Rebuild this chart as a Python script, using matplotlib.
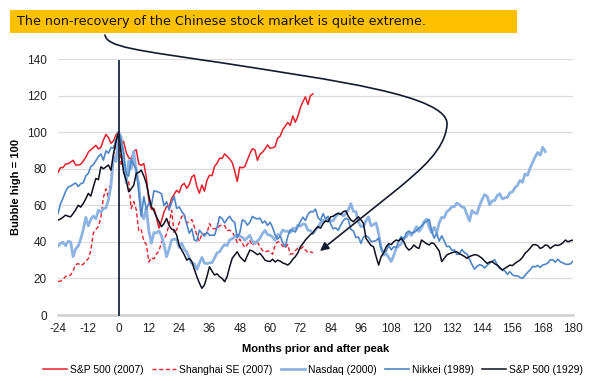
import matplotlib
matplotlib.use("Agg")
import matplotlib.pyplot as plt
import numpy as np
from matplotlib.patches import Rectangle, FancyArrowPatch
from matplotlib.path import Path

plt.rcParams['font.family'] = ['Liberation Sans', 'DejaVu Sans']

# ---------------- data (index, bubble high = 100) ----------------
months_sp07 = list(range(-24, 78))
sp500_2007 = [77.9, 80.6, 80.6,
              82.6, 82.7, 83.6, 84.6, 82.0, 82.0, 82.4, 84.2, 86.2, 89.0, 90.4, 91.5,
              92.8, 90.8, 91.7, 95.7, 98.8, 97.0, 93.9, 95.2, 98.6, 100.0,
              95.6, 94.8,
              89.0, 85.9, 85.4, 89.5, 90.4, 82.6, 81.8, 82.8, 75.3, 62.6, 57.8, 58.3,
              53.3, 47.5, 51.5, 56.4, 59.3, 59.3, 63.7, 65.9, 68.2, 66.9, 70.8, 72.0,
              69.3, 71.3, 75.5, 76.6, 70.3, 66.6, 71.1, 67.7, 73.7, 76.4, 76.2, 81.2,
              83.0, 85.7, 85.6, 88.1, 86.8, 85.3, 83.4, 78.7, 73.0, 80.9, 80.5, 81.2,
              84.7, 88.2, 90.9, 90.3, 84.6, 87.9, 89.0, 90.8, 93.0, 91.2, 91.4, 92.1,
              96.7, 97.8, 101.3, 103.2, 105.3, 103.7, 108.8, 105.4, 108.6, 113.4, 116.6, 119.3,
              115.1, 120.0, 120.9]

months_sh = list(range(-24, 78))
shanghai_2007 = [18.3, 18.5, 19.5,
                 21.1, 21.8, 21.8, 24.2, 27.6, 28.1, 27.1, 27.8, 29.4, 30.8, 35.2, 44.9,
                 46.8, 48.4, 53.5, 64.5, 69.0, 64.2, 75.1, 87.6, 93.2, 100.0,
                 81.8, 88.4,
                 73.6, 73.0, 58.3, 62.0, 57.6, 45.9, 46.6, 40.3, 38.5, 29.0, 31.4, 30.6,
                 33.4, 35.0, 39.8, 41.6, 44.2, 49.7, 57.3, 44.8, 46.7, 50.3, 53.7, 55.0,
                 50.2, 51.2, 52.2, 48.2, 43.5, 40.3, 44.3, 44.3, 44.6, 50.0, 47.4, 47.2,
                 46.9, 48.8, 49.2, 48.9, 46.1, 46.4, 45.4, 43.1, 39.6, 41.5, 39.2, 36.9,
                 38.5, 40.8, 38.0, 40.3, 39.8, 37.4, 35.3, 34.4, 35.0, 34.7, 33.2, 38.1,
                 40.1, 39.7, 37.6, 36.6, 38.6, 33.2, 33.5, 35.2, 36.5, 36.0, 37.3, 35.5,
                 34.1, 34.5, 34.1]

months_nq = list(range(-24, 170))
nasdaq_2000 = [37.7, 39.1, 39.8, 37.9, 40.3, 39.9, 31.9, 36.1, 37.7, 41.5, 46.7,
               53.4, 48.7, 52.4, 54.1, 52.6, 57.2, 56.2, 58.3, 58.5, 63.1, 71.0, 86.6,
               83.9, 100.0,
               97.4, 82.2, 72.4, 84.4, 80.2, 89.5, 78.2, 71.7, 55.3, 52.6,
               59.0, 45.8, 39.2, 45.1, 44.9, 46.0, 43.2, 38.4, 31.9, 36.0, 41.1, 41.5,
               41.2, 36.9, 39.3, 35.9, 34.4, 31.1, 28.3, 28.0, 25.0, 28.3, 31.5, 28.4,
               28.1, 28.5, 28.6, 31.2, 34.0, 34.6, 36.9, 38.5, 38.0, 41.1, 41.7, 42.6,
               44.0, 43.2, 42.5, 40.9, 42.3, 43.6, 40.2, 39.1, 40.4, 42.0, 44.6, 46.3,
               43.9, 43.7, 42.6, 40.9, 44.0, 43.8, 46.5, 45.8, 45.8, 45.1, 47.5, 46.9,
               49.1, 48.6, 49.8, 49.5, 46.4, 46.2, 44.5, 46.5, 48.1, 50.4, 51.8, 51.4,
               52.5, 51.4, 51.6, 53.8, 55.5, 55.4, 54.2, 55.3, 57.5, 60.9, 56.7, 56.5,
               50.9, 48.4, 48.5, 51.4, 53.7, 48.8, 49.5, 50.4, 44.5, 36.6, 32.7, 33.6,
               31.4, 29.3, 32.6, 36.6, 37.8, 39.1, 42.1, 42.8, 45.2, 43.5, 45.7, 48.3,
               45.7, 47.6, 51.1, 52.4, 48.1, 44.9, 48.0, 45.0, 50.4, 53.4, 53.2, 56.5,
               57.5, 59.2, 59.2, 61.2, 60.4, 59.1, 58.7, 54.9, 51.4, 57.1, 55.8, 55.5,
               59.9, 63.2, 65.8, 64.9, 60.2, 62.5, 62.6, 65.3, 66.3, 63.4, 64.1, 64.3,
               66.9, 67.3, 69.6, 70.9, 73.6, 72.5, 77.2, 76.4, 80.3, 83.5, 86.4, 88.9,
               87.4, 91.7, 89.4]

months_nk = list(range(-24, 181))
nikkei_1989 = [55.4,
               60.9, 64.0, 67.5, 70.0, 70.5, 71.4, 72.2, 70.3, 71.8, 72.3, 76.0, 77.5,
               81.2, 82.2, 84.4, 86.6, 88.1, 84.7, 89.8, 88.5, 91.6, 91.3, 95.8, 100.0,
               95.6, 88.9, 77.0, 76.0, 85.1, 82.1, 79.8, 66.8, 53.9, 64.7, 57.7, 61.3,
               59.9, 67.9, 67.6, 67.1, 66.3, 59.8, 62.0, 57.4, 61.5, 64.8, 58.3, 59.1,
               56.6, 54.8, 49.7, 44.7, 47.1, 41.0, 40.5, 46.4, 44.7, 43.1, 45.4, 43.5,
               43.7, 43.6, 47.8, 53.8, 52.8, 50.3, 52.4, 54.0, 51.7, 50.6, 42.2, 44.8,
               52.0, 51.4, 49.1, 50.7, 53.9, 53.0, 52.5, 53.0, 50.3, 51.4, 49.0, 50.7,
               47.9, 43.8, 41.5, 43.2, 39.7, 37.3, 42.9, 46.6, 46.0, 45.4, 48.2, 51.1,
               53.5, 51.7, 55.0, 56.6, 56.4, 57.9, 53.2, 51.8, 55.4, 52.6, 54.0, 49.8,
               47.1, 47.7, 46.3, 49.2, 51.6, 52.9, 52.2, 46.8, 46.0, 42.3, 42.7, 39.2,
               42.7, 43.3, 42.5, 40.2, 40.3, 40.7, 42.1, 36.3, 34.4, 34.9, 38.2, 35.6,
               37.3, 36.9, 40.7, 42.9, 41.4, 45.0, 45.9, 44.8, 45.2, 46.1, 47.7, 48.7,
               50.2, 51.3, 52.3, 46.2, 42.0, 44.7, 40.4, 43.3, 40.5, 37.4, 37.6, 35.4,
               35.6, 33.1, 33.4, 35.8, 34.1, 33.3, 30.5, 27.5, 25.1, 26.6, 27.5, 27.1,
               25.7, 27.2, 28.3, 29.5, 30.2, 27.3, 25.4, 24.7, 24.1, 22.2, 23.7, 22.0,
               21.4, 21.5, 20.5, 20.1, 21.6, 23.3, 24.6, 26.6, 26.3, 27.1, 26.0, 27.4,
               27.7, 28.4, 30.1, 30.2, 28.9, 30.5, 29.1, 28.5, 27.8, 27.7, 28.0, 29.5]

months_sp29 = list(range(-24, 181))
sp500_1929 = [51.9, 52.5, 53.5, 54.6, 54.0, 53.7, 55.5, 57.5, 60.0, 59.0, 61.0, 63.5,
              66.5, 65.0, 70.0, 74.7, 74.0, 81.0, 80.0, 81.0, 82.0, 79.2, 88.4, 95.0,
              100.0,
              88.4, 78.0, 73.8, 67.4, 69.0, 71.0, 77.4, 78.0, 79.2, 76.0, 72.0, 65.0,
              59.2, 57.0, 53.7, 51.0, 48.3, 50.0, 52.8, 49.0, 47.0, 46.4, 43.7, 38.0,
              35.5, 33.0, 30.0, 31.0, 29.2, 25.0, 21.0, 17.5, 14.6, 16.4, 21.0, 26.4,
              24.0, 21.9, 22.5, 21.0, 20.0, 18.2, 21.0, 26.4, 31.0, 32.8, 34.6, 32.0,
              30.5, 29.2, 32.5, 35.5, 35.0, 34.0, 33.0, 33.7, 32.0, 30.0, 29.5, 29.2,
              30.5, 29.0, 30.0, 29.5, 28.5, 28.0, 27.3, 28.5, 30.5, 31.9, 34.0, 37.3,
              39.0, 41.0, 42.5, 44.0, 45.0, 47.0, 48.3, 47.5, 50.0, 51.5, 51.0, 53.7,
              54.0, 55.0, 55.6, 55.0, 56.5, 57.0, 54.0, 52.0, 51.0, 52.5, 53.7, 52.0,
              50.1, 41.9, 40.0, 38.0, 37.3, 32.0, 27.3, 31.9, 34.0, 37.3, 39.0, 38.5,
              40.1, 41.0, 40.5, 41.9, 40.0, 37.0, 35.5, 36.5, 38.3, 37.0, 36.4, 41.0,
              40.0, 39.0, 38.3, 39.5, 39.0, 37.0, 35.0, 29.2, 31.0, 32.8, 33.5, 34.0,
              34.5, 34.6, 33.5, 32.8, 32.0, 31.0, 32.0, 32.5, 33.0, 32.8, 32.0, 31.0,
              29.5, 28.2, 29.0, 29.2, 28.0, 27.3, 26.0, 24.6, 25.5, 26.4, 27.3, 27.0,
              28.2, 29.2, 30.0, 31.5, 33.7, 35.0, 36.5, 38.3, 38.5, 38.0, 36.4, 37.0,
              38.3, 38.0, 36.4, 37.5, 38.3, 38.0, 38.5, 39.5, 41.0, 40.0, 40.6, 41.0]

x_ticks = list(range(-24, 181, 12))
y_ticks = list(range(0, 141, 20))
title_text = "The non-recovery of the Chinese stock market is quite extreme."

# ---------------- figure ----------------
W, H = 600, 381
fig = plt.figure(figsize=(W / 100, H / 100), dpi=100)
fig.patch.set_facecolor('white')


def fx(px):
    return px / W


def fy(py):
    return 1 - py / H


ax = fig.add_axes([fx(58), fy(315), fx(573) - fx(58), fy(59) - fy(315)])

red = '#E5202B'
nq_col = '#8DB3E2'
nk_col = '#4F86C6'
blk = '#0E1020'

ax.plot(months_sp07, sp500_2007, color=red, lw=1.1, label='S&P 500 (2007)', zorder=3)
ax.plot(months_sh, shanghai_2007, color=red, lw=1.0, ls=(0, (3, 1.8)),
        label='Shanghai SE (2007)', zorder=3)
ax.plot(months_nq, nasdaq_2000, color=nq_col, lw=2.0, label='Nasdaq (2000)', zorder=3)
ax.plot(months_nk, nikkei_1989, color=nk_col, lw=1.2, label='Nikkei (1989)', zorder=3)
ax.plot(months_sp29, sp500_1929, color=blk, lw=1.1, label='S&P 500 (1929)', zorder=4)

# vertical peak marker
ax.plot([0, 0], [0, 139], color='#1B2640', lw=1.3, zorder=5, clip_on=False)

ax.set_xlim(-24, 180)
ax.set_ylim(0, 140)
ax.set_xticks(x_ticks)
ax.set_xticklabels([str(t) for t in x_ticks])
ax.set_yticks(y_ticks)
ax.tick_params(axis='both', length=0, labelsize=8.5, colors='#222222')
ax.tick_params(axis='x', pad=6)
ax.tick_params(axis='y', pad=8)
ax.grid(axis='y', color='#DCDCDC', lw=0.9)
ax.set_axisbelow(True)
for s in ['left', 'right', 'top']:
    ax.spines[s].set_visible(False)
ax.spines['bottom'].set_color('#CFCFCF')
ax.spines['bottom'].set_linewidth(1.8)

ax.set_ylabel('Bubble high = 100', fontsize=8, fontweight='bold', labelpad=4)
ax.set_xlabel('Months prior and after peak', fontsize=8, fontweight='bold', labelpad=6)

# legend
fig.legend(loc='center', bbox_to_anchor=(fx(313), fy(370)), ncol=5, frameon=False,
           fontsize=7.5, handlelength=2.3, handletextpad=0.3, columnspacing=0.8)

# title box
fig.patches.append(Rectangle((fx(10), fy(33)), fx(517) - fx(10), fy(10) - fy(33),
                             transform=fig.transFigure, facecolor='#FFC000',
                             edgecolor='none', zorder=0))
fig.text(fx(17), fy(21.5), title_text, fontsize=9.2, family='DejaVu Sans',
         ha='left', va='center', color='#111111')

# curved annotation arrow (figure pixel space)
pts = [(fx(x), fy(y)) for x, y in [
    (105, 35),
    (107, 47), (135, 50), (223, 63),
    (330, 80), (450, 95), (447, 125),
    (445, 150), (420, 170), (400, 187),
    (320, 251)]]
codes = [Path.MOVETO,
         Path.CURVE4, Path.CURVE4, Path.CURVE4,
         Path.CURVE4, Path.CURVE4, Path.CURVE4,
         Path.CURVE4, Path.CURVE4, Path.CURVE4,
         Path.LINETO]
arrow = FancyArrowPatch(path=Path(pts, codes), arrowstyle='-|>,head_length=5,head_width=2.5',
                        color='#141A30', lw=1.2, transform=fig.transFigure, zorder=10)
fig.patches.append(arrow)

fig.savefig('out.png', dpi=100)
